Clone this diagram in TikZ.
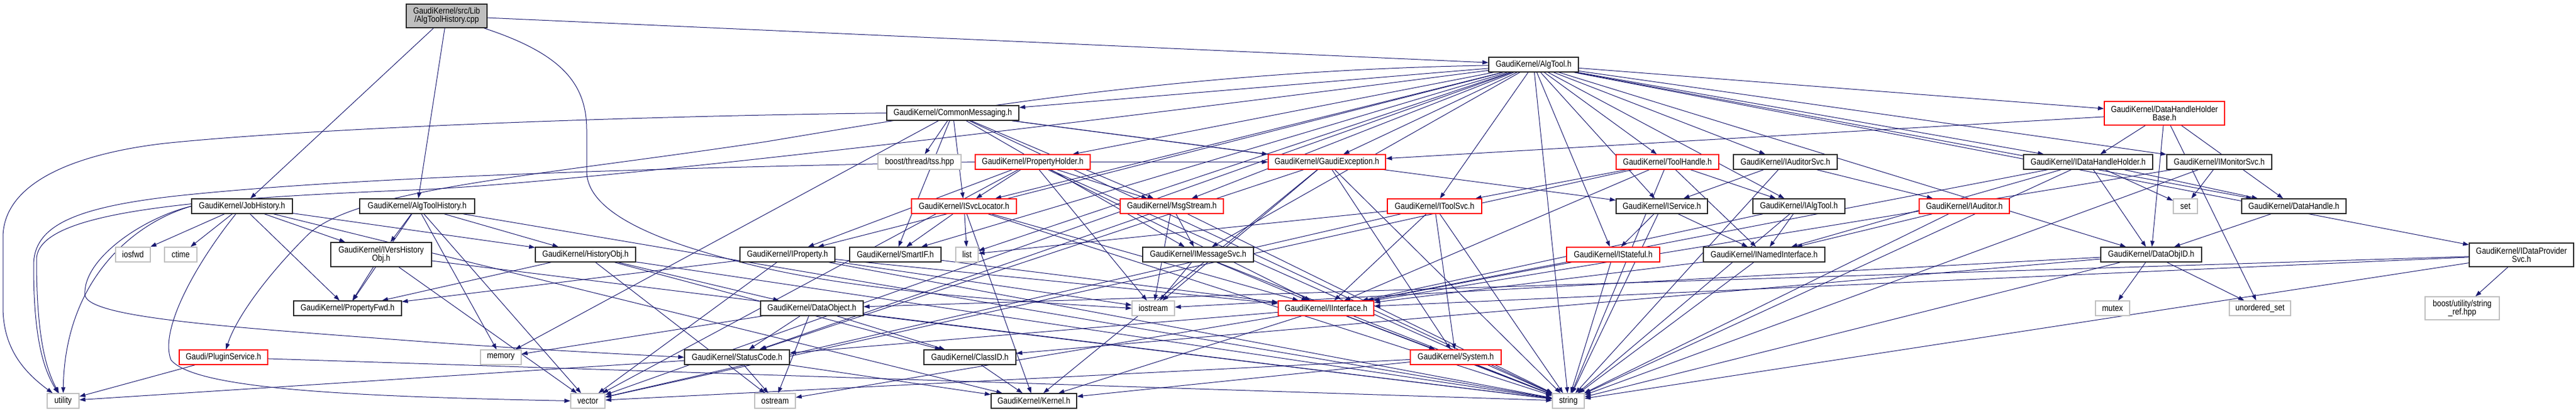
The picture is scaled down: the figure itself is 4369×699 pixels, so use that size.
\documentclass[tikz,border=0pt]{standalone}
\usepackage{fontspec}
\setmainfont{Liberation Sans}[FakeStretch=0.86]
\usetikzlibrary{arrows.meta}
\definecolor{edgec}{HTML}{191970}
\definecolor{greyb}{HTML}{BFBFBF}
\definecolor{redb}{HTML}{FF0000}
\pgfdeclarelayer{bg}
\pgfsetlayers{bg,main}
\begin{document}
\begin{tikzpicture}[x=1pt,y=-1pt,
  box/.style={draw, line width=1.4pt, minimum height=25, inner sep=0pt, align=center, fill=white,
    font=\fontsize{15}{14}\selectfont},
  blk/.style={box, draw=black!85},
  redn/.style={box, draw=redb},
  sysn/.style={box, draw=greyb},
  rootn/.style={box, draw=black!85, fill=greyb},
  e/.style={draw=edgec, line width=1pt, -{Triangle[length=10pt,width=7pt]}}]
\useasboundingbox (0,0) rectangle (4369,699);

% row 0
\node[rootn, minimum width=137, minimum height=40] (root) at (757.5,27) {GaudiKernel/src/Lib\\/AlgToolHistory.cpp};
% row 1
\node[blk, minimum width=152] (algtool) at (2601,109.5) {GaudiKernel/AlgTool.h};
% row 2
\node[blk, minimum width=224] (cm) at (1616,191.5) {GaudiKernel/CommonMessaging.h};
\node[redn, minimum width=204, minimum height=40] (dhhb) at (3671,192) {GaudiKernel/DataHandleHolder\\Base.h};
% row 3
\node[sysn, minimum width=141] (tss) at (1559.5,274.5) {boost/thread/tss.hpp};
\node[redn, minimum width=195] (ph) at (1751.5,274.5) {GaudiKernel/PropertyHolder.h};
\node[redn, minimum width=199] (gexc) at (2250.5,274.5) {GaudiKernel/GaudiException.h};
\node[redn, minimum width=174] (th) at (2828,274.5) {GaudiKernel/ToolHandle.h};
\node[blk, minimum width=176] (iaudsvc) at (3028,274.5) {GaudiKernel/IAuditorSvc.h};
\node[blk, minimum width=219] (idhh) at (3541.5,274.5) {GaudiKernel/IDataHandleHolder.h};
\node[blk, minimum width=178] (imon) at (3764,274.5) {GaudiKernel/IMonitorSvc.h};
% row 4
\node[blk, minimum width=171] (jobh) at (410.5,349.5) {GaudiKernel/JobHistory.h};
\node[blk, minimum width=195] (ath) at (707.5,349.5) {GaudiKernel/AlgToolHistory.h};
\node[redn, minimum width=178] (isvcl) at (1635,349.5) {GaudiKernel/ISvcLocator.h};
\node[redn, minimum width=175] (msgs) at (1987.5,349.5) {GaudiKernel/MsgStream.h};
\node[redn, minimum width=160] (itoolsvc) at (2433,349.5) {GaudiKernel/IToolSvc.h};
\node[blk, minimum width=155] (iservice) at (2818.5,349.5) {GaudiKernel/IService.h};
\node[blk, minimum width=156] (ialgtool) at (3051,349.5) {GaudiKernel/IAlgTool.h};
\node[redn, minimum width=153] (iauditor) at (3331.5,349.5) {GaudiKernel/IAuditor.h};
\node[sysn, minimum width=41] (set) at (3706.5,349.5) {set};
\node[blk, minimum width=177] (dh) at (3890.5,349.5) {GaudiKernel/DataHandle.h};
% row 5
\node[sysn, minimum width=59] (iosfwd) at (225.5,431.5) {iosfwd};
\node[sysn, minimum width=55] (ctime) at (306.5,431.5) {ctime};
\node[blk, minimum width=171, minimum height=41] (ivers) at (646.5,431.5) {GaudiKernel/IVersHistory\\Obj.h};
\node[blk, minimum width=170] (histobj) at (993,431.5) {GaudiKernel/HistoryObj.h};
\node[blk, minimum width=161] (iprop) at (1335.5,431.5) {GaudiKernel/IProperty.h};
\node[blk, minimum width=155] (smartif) at (1518.5,431.5) {GaudiKernel/SmartIF.h};
\node[sysn, minimum width=38] (list) at (1640,431.5) {list};
\node[blk, minimum width=188] (imsgsvc) at (2032,431.5) {GaudiKernel/IMessageSvc.h};
\node[redn, minimum width=158] (istateful) at (2736,431.5) {GaudiKernel/IStateful.h};
\node[blk, minimum width=206] (inamed) at (2992,431.5) {GaudiKernel/INamedInterface.h};
\node[blk, minimum width=171] (dataobjid) at (3648.5,431.5) {GaudiKernel/DataObjID.h};
\node[blk, minimum width=177, minimum height=40] (idps) at (4276.5,432) {GaudiKernel/IDataProvider\\Svc.h};
% row 6
\node[blk, minimum width=183] (propfwd) at (589.5,522.5) {GaudiKernel/PropertyFwd.h};
\node[blk, minimum width=174] (dataobj) at (1377,522.5) {GaudiKernel/DataObject.h};
\node[sysn, minimum width=72] (iostream) at (1956,522.5) {iostream};
\node[redn, minimum width=162] (iinterface) at (2249,522.5) {GaudiKernel/IInterface.h};
\node[sysn, minimum width=58] (mutex) at (3583,522.5) {mutex};
\node[sysn, minimum width=104] (uset) at (3833,522.5) {unordered\_set};
\node[sysn, minimum width=126, minimum height=39] (bsr) at (4176,522.5) {boost/utility/string\\\_ref.hpp};
% row 7
\node[redn, minimum width=150] (plugin) at (379,605.5) {Gaudi/PluginService.h};
\node[sysn, minimum width=69] (memory) at (849.5,605.5) {memory};
\node[blk, minimum width=178] (statuscode) at (1250,605.5) {GaudiKernel/StatusCode.h};
\node[blk, minimum width=156] (classid) at (1645,605.5) {GaudiKernel/ClassID.h};
\node[redn, minimum width=154] (system) at (2469,605.5) {GaudiKernel/System.h};
% row 8
\node[sysn, minimum width=54] (utility) at (107,679.5) {utility};
\node[sysn, minimum width=58] (vector) at (997,679.5) {vector};
\node[sysn, minimum width=69] (ostream) at (1314.5,679.5) {ostream};
\node[blk, minimum width=145] (kernel) at (1753.5,679.5) {GaudiKernel/Kernel.h};
\node[sysn, minimum width=54] (string) at (2660,679.5) {string};

\begin{pgfonlayer}{bg}
\foreach \s/\t in {root/ath, root/algtool, root/jobh,
  algtool/cm, algtool/ph, algtool/gexc, algtool/th, algtool/iaudsvc, algtool/dhhb, algtool/idhh,
  algtool/imon, algtool/isvcl, algtool/msgs, algtool/itoolsvc, algtool/iservice, algtool/ialgtool,
  algtool/istateful, algtool/dh, algtool/iprop, algtool/list, algtool/dataobjid, algtool/idps,
  algtool/vector, algtool/string, algtool/imsgsvc, algtool/smartif,
  cm/tss, cm/isvcl, cm/msgs, cm/gexc, cm/imsgsvc, cm/smartif, cm/iservice, cm/string, cm/memory,
  ph/iprop, ph/isvcl, ph/msgs, ph/gexc, ph/iostream, ph/string, ph/vector, ph/iinterface,
  gexc/kernel, gexc/statuscode, gexc/system, gexc/iostream, gexc/string,
  th/itoolsvc, th/ialgtool, th/inamed, th/string, th/vector, th/iinterface,
  iaudsvc/iservice, iaudsvc/iauditor, iaudsvc/string,
  dhhb/idhh, dhhb/gexc, dhhb/dh, dhhb/dataobjid, dhhb/uset,
  idhh/inamed, idhh/dataobjid, idhh/set, idhh/dh, idhh/iinterface, idhh/string,
  imon/set, imon/iinterface, imon/string,
  isvcl/smartif, isvcl/list, isvcl/iinterface, isvcl/string, isvcl/kernel,
  msgs/imsgsvc, msgs/string, msgs/iostream, msgs/statuscode,
  imsgsvc/iostream, imsgsvc/iinterface, imsgsvc/string,
  itoolsvc/iinterface, itoolsvc/system, itoolsvc/string, itoolsvc/list, itoolsvc/vector,
  iservice/istateful, iservice/string, iservice/inamed,
  ialgtool/inamed, ialgtool/iinterface, ialgtool/string,
  iauditor/inamed, iauditor/string,
  istateful/iinterface, istateful/string,
  inamed/iinterface, inamed/string,
  dataobjid/mutex, dataobjid/uset, dataobjid/string, dataobjid/classid, dataobjid/iostream,
  idps/bsr, idps/string, idps/iinterface, idps/dataobj,
  dh/dataobjid,
  jobh/iosfwd, jobh/ctime, jobh/ivers, jobh/propfwd, jobh/histobj, jobh/kernel,
  ath/ivers, ath/histobj, ath/propfwd, ath/memory, ath/string, ath/vector,
  ivers/propfwd, ivers/string, ivers/vector,
  histobj/dataobj, histobj/ostream, histobj/classid, histobj/propfwd, histobj/string,
  iprop/iinterface, iprop/propfwd, iprop/vector, iprop/string, iprop/iostream,
  smartif/iinterface,
  dataobj/memory, dataobj/statuscode, dataobj/ostream, dataobj/classid, dataobj/string,
  statuscode/ostream, statuscode/kernel, statuscode/utility,
  classid/kernel,
  plugin/utility, plugin/string,
  iinterface/system, iinterface/kernel, iinterface/statuscode, iinterface/ostream, iinterface/string,
  system/kernel, system/string, system/vector}
  \draw[e] (\s) -- (\t);

% curved long edges
\draw[e] (cm.west) .. controls (1000,198) and (500,220) .. (279,243)
  .. controls (150,258) and (8,300) .. (5,400) -- (5,520)
  .. controls (5,590) and (40,630) .. (utility);
\draw[e] (ph.west) .. controls (1100,285) and (600,300) .. (300,332)
  .. controls (120,352) and (57,385) .. (57,450)
  .. controls (57,560) and (70,620) .. (utility);
\draw[e] (algtool) .. controls (1900,200) and (1000,310) .. (700,322)
  .. controls (300,338) and (62,362) .. (62,440)
  .. controls (62,560) and (75,620) .. (utility);
\draw[e] (jobh.west) .. controls (220,380) and (110,480) .. (utility);
\draw[e] (jobh.west) .. controls (240,370) and (140,440) .. (144,500)
  .. controls (150,540) and (400,555) .. (730,580)
  .. controls (900,592) and (1050,600) .. (statuscode.west);
\draw[e] (jobh) .. controls (330,450) and (270,560) .. (290,610)
  .. controls (330,660) and (600,672) .. (vector.west);
\draw[e] (root) .. controls (950,90) and (995,140) .. (995,220) -- (995,290)
  .. controls (995,370) and (1150,420) .. (1300,455)
  .. controls (1500,500) and (1800,515) .. (iostream.west);
\draw[e] (algtool) .. controls (2000,120) and (1600,190) .. (1300,240)
  .. controls (900,300) and (600,320) .. (520,400)
  .. controls (450,470) and (400,540) .. (plugin);
\end{pgfonlayer}
\end{tikzpicture}
\end{document}
